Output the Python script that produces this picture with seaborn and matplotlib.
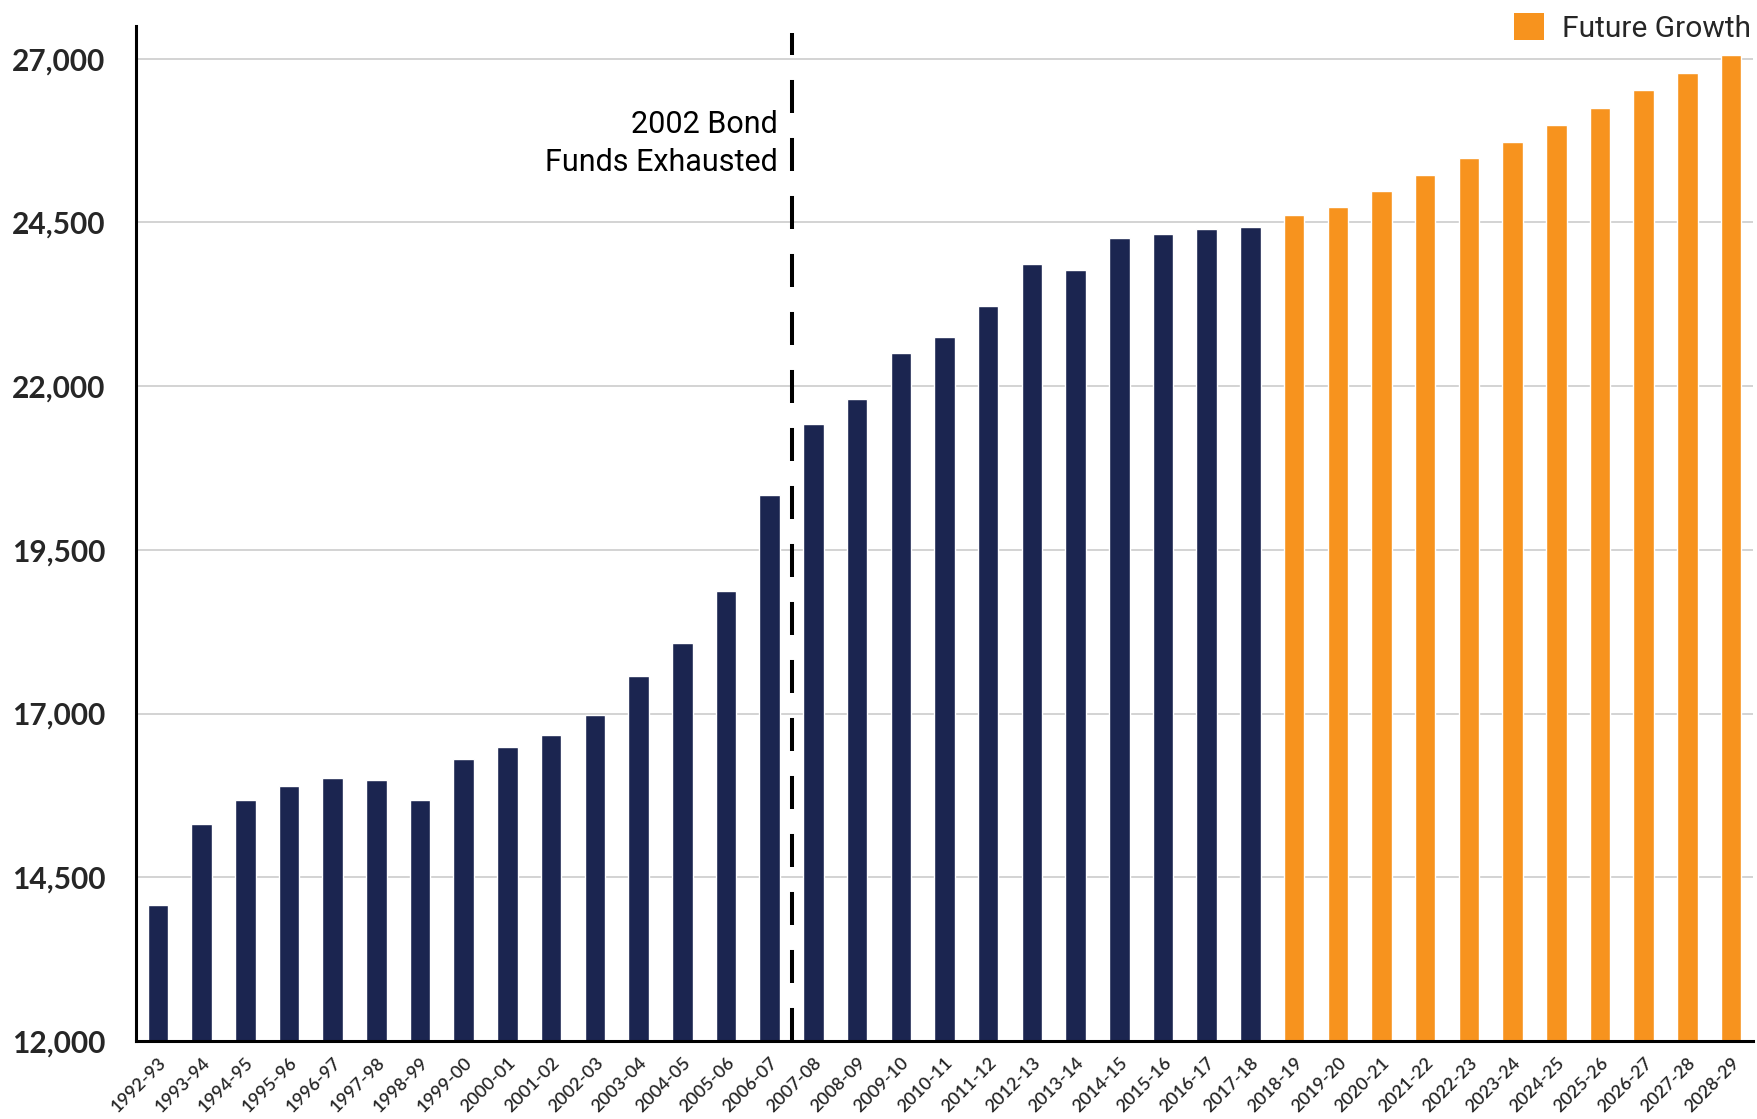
import numpy as np
import pandas as pd
import matplotlib
matplotlib.use("Agg")
import matplotlib.pyplot as plt
import seaborn as sns
from matplotlib.patches import Patch
from matplotlib.ticker import FixedLocator, FuncFormatter

# --- data ---
seasons = [
    "1992-93", "1993-94", "1994-95", "1995-96", "1996-97", "1997-98", "1998-99",
    "1999-00", "2000-01", "2001-02", "2002-03", "2003-04", "2004-05", "2005-06",
    "2006-07", "2007-08", "2008-09", "2009-10", "2010-11", "2011-12", "2012-13",
    "2013-14", "2014-15", "2015-16", "2016-17", "2017-18", "2018-19", "2019-20",
    "2020-21", "2021-22", "2022-23", "2023-24", "2024-25", "2025-26", "2026-27",
    "2027-28", "2028-29",
]
historical = [
    14080, 15320, 15680, 15900, 16020, 15990, 15680, 16300, 16490, 16680,
    16980, 17580, 18080, 18870, 20340, 21420, 21810, 22510, 22750, 23230,
    23870, 23780, 24260, 24330, 24400, 24430,
]
future = [24620, 24740, 24980, 25220, 25480, 25730, 25990, 26250, 26520, 26780, 27050]
groups = ["Historical"] * len(historical) + ["Future Growth"] * len(future)
y_major = [12000, 14500, 17000, 19500, 22000, 24500, 27000]

navy = "#1b2550"
orange = "#f7931e"

df = pd.DataFrame({"season": seasons, "enrollment": historical + future, "group": groups})

sns.set_theme(style="white")
plt.rcParams["font.family"] = ["Lato", "DejaVu Sans"]

fig = plt.figure(figsize=(17.57, 11.19), dpi=100)
ax = fig.add_axes([0.0774, 0.0697, 0.9203, 0.9071])

sns.barplot(data=df, x="season", y="enrollment", hue="group",
            palette={"Historical": navy, "Future Growth": orange},
            dodge=False, width=0.47, legend=False, ax=ax, saturation=1)

ax.set_ylim(12000, 27500)
ax.set_xlim(-0.5, len(seasons) - 0.5)
ax.yaxis.set_major_locator(FixedLocator(y_major))
ax.yaxis.set_minor_locator(FixedLocator(np.arange(12000, 27501, 500)))
ax.yaxis.set_major_formatter(FuncFormatter(lambda v, p: f"{int(v):,}"))
ax.grid(axis="y", which="major", color="#cccccc", linewidth=1.2)
ax.set_axisbelow(True)

# x ticks sit between the bars, labels under the bars
ax.set_xticks(np.arange(len(seasons)))
ax.set_xticklabels(seasons, rotation=45, ha="right", rotation_mode="anchor")
ax.set_xticks(np.arange(len(seasons) + 1) - 0.5, minor=True)
ax.tick_params(axis="x", which="major", length=0, labelsize=13, pad=10)
ax.tick_params(axis="x", which="minor", length=7, width=1.2, color="#888888", direction="out")
ax.tick_params(axis="y", which="major", length=14, width=1.5, color="#888888",
               direction="inout", labelsize=21.5, pad=15)
ax.tick_params(axis="y", which="minor", length=6, width=1.2, color="#888888", direction="in")
for lab in ax.get_yticklabels():
    lab.set_fontweight("bold")
for lab in ax.get_xticklabels():
    lab.set_fontweight("semibold")

ax.set_xlabel("")
ax.set_ylabel("")
sns.despine(ax=ax, top=True, right=True)
ax.spines["left"].set_color("black")
ax.spines["left"].set_linewidth(2.2)
ax.spines["bottom"].set_color("black")
ax.spines["bottom"].set_linewidth(2.2)

# bond funds marker
ax.vlines(14.5, 12000, 27400, colors="black", linewidth=2.9, linestyles=(0, (8.2, 6.2)))
ax.text(14.18, 25700, "2002 Bond\nFunds Exhausted", ha="right", va="center",
        fontsize=22, linespacing=1.38, color="black",
        family=["Roboto", "DejaVu Sans"])

handle = [Patch(facecolor=orange, edgecolor="none", label="Future Growth")]
fig.legend(handles=handle, loc="upper right", bbox_to_anchor=(1.012, 1.012), frameon=False,
           handlelength=1.0, handleheight=1.0, handletextpad=0.6,
           prop={"family": ["Roboto", "DejaVu Sans"], "size": 21.5})

fig.savefig("out.png", dpi=100)
